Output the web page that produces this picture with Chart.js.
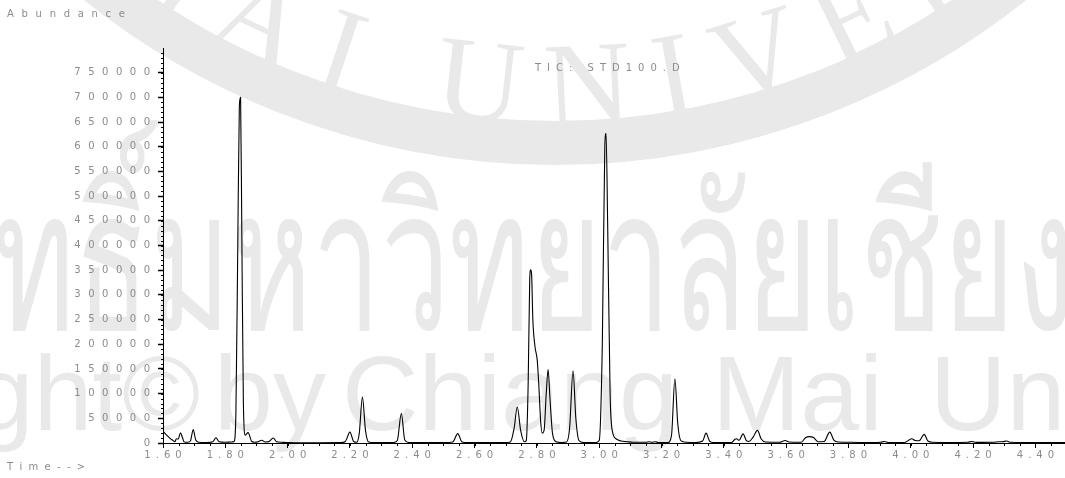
<!DOCTYPE html>
<html>
<head>
<meta charset="utf-8">
<script src="https://cdn.jsdelivr.net/npm/chart.js@4.4.1/dist/chart.umd.min.js"></script>
<style>
  html, body { margin: 0; padding: 0; background: #fff; }
  canvas { display: block; }
</style>
</head>
<body>
<canvas id="tic" width="1065" height="478"></canvas>
<script>
// Total ion chromatogram: retention time (min) vs. abundance
const retentionTimes = [
  1.600, 1.610, 1.620, 1.630, 1.638, 1.643, 1.649, 1.656, 1.662, 1.668,
  1.680, 1.688, 1.697, 1.705, 1.715, 1.740, 1.760, 1.770, 1.780, 1.800,
  1.820, 1.828, 1.834, 1.840, 1.845, 1.849, 1.853, 1.858, 1.864, 1.873,
  1.885, 1.895, 1.905, 1.917, 1.928, 1.940, 1.954, 1.965, 1.980, 2.000,
  2.050, 2.100, 2.170, 2.185, 2.200, 2.212, 2.222, 2.230, 2.240, 2.250,
  2.260, 2.280, 2.340, 2.352, 2.365, 2.376, 2.390, 2.500, 2.530, 2.546,
  2.560, 2.580, 2.700, 2.715, 2.727, 2.737, 2.748, 2.760, 2.766, 2.772,
  2.777, 2.780, 2.783, 2.787, 2.794, 2.801, 2.806, 2.812, 2.817, 2.823,
  2.830, 2.836, 2.842, 2.850, 2.862, 2.880, 2.895, 2.905, 2.916, 2.925,
  2.935, 2.950, 2.990, 3.000, 3.010, 3.018, 3.022, 3.027, 3.035, 3.042,
  3.055, 3.070, 3.090, 3.110, 3.150, 3.160, 3.170, 3.180, 3.190, 3.220,
  3.232, 3.243, 3.252, 3.262, 3.280, 3.310, 3.332, 3.343, 3.354, 3.366,
  3.425, 3.435, 3.441, 3.449, 3.462, 3.472, 3.481, 3.494, 3.508, 3.520,
  3.534, 3.578, 3.597, 3.609, 3.648, 3.663, 3.675, 3.688, 3.703, 3.722,
  3.740, 3.753, 3.768, 3.810, 3.870, 3.903, 3.915, 3.928, 3.980, 4.003,
  4.015, 4.027, 4.043, 4.055, 4.070, 4.120, 4.183, 4.196, 4.210, 4.268,
  4.281, 4.293, 4.308, 4.320, 4.370, 4.420, 4.495
];
const abundance = [
  24000, 17000, 11000, 6000, 2500, 8500, 8000, 20500, 12000, 2000,
  1500, 4000, 27000, 6000, 1500, 1000, 2500, 10500, 2500, 1500,
  2000, 3000, 60000, 400000, 682000, 700000, 420000, 80000, 16000, 21000,
  3000, 1500, 2500, 5500, 2000, 3000, 10000, 2500, 1500, 1000,
  500, 500, 800, 3000, 22000, 3000, 1500, 20000, 93000, 25000,
  2000, 800, 1000, 5000, 60000, 6000, 1000, 800, 2000, 19000,
  2000, 800, 800, 2000, 30000, 73000, 25000, 2500, 5000, 120000,
  330000, 351000, 342000, 250000, 195000, 168000, 120000, 45000, 20000, 25000,
  100000, 149000, 90000, 20000, 2500, 1000, 2000, 30000, 146000, 50000,
  5000, 1000, 1000, 5000, 200000, 600000, 627000, 450000, 100000, 25000,
  8000, 4000, 2500, 1500, 1500, 2500, 1500, 2500, 1000, 1000,
  15000, 130000, 40000, 5000, 1500, 1000, 4000, 20000, 4000, 1000,
  1000, 7000, 8500, 5500, 18500, 5000, 3000, 12000, 25500, 8000,
  2000, 1500, 5000, 2000, 1500, 11000, 13000, 11000, 2500, 3000,
  22000, 6000, 2000, 1500, 800, 1500, 3000, 1000, 1000, 8500,
  5000, 4500, 17500, 4000, 1500, 1000, 1500, 3000, 1200, 1500,
  2500, 2500, 4000, 1500, 1000, 1000, 1000
];

const xTickValues = [1.6, 1.8, 2.0, 2.2, 2.4, 2.6, 2.8, 3.0, 3.2, 3.4, 3.6, 3.8, 4.0, 4.2, 4.4];
const yTickValues = [0, 50000, 100000, 150000, 200000, 250000, 300000, 350000,
                     400000, 450000, 500000, 550000, 600000, 650000, 700000, 750000];
const xMinorStep = 0.05;
const yMinorStep = 10000;

const yLabelText = 'Abundance';
const xLabelText = 'Time-->';
const traceTitle = 'TIC: STD100.D';
const watermarkSeal = 'CHIANG MAI UNIVERSITY';
const watermarkThai = 'ลิขสิทธิ์มหาวิทยาลัยเชียงใหม่';
const watermarkCopyright = ['Copyright©', 'by', 'Chiang', 'Mai', 'University'];

const points = retentionTimes.map((t, i) => ({ x: t, y: abundance[i] }));

const LABEL_GREY = '#8c8c8c';
const MARK_GREY = '#e9e9e9';
const spaced = (s, gap) => String(s).split('').join(gap);

function drawSpaced(ctx, text, x, y, spacing) {
  let cx = x;
  for (const ch of text) {
    ctx.fillText(ch, cx, y);
    cx += ctx.measureText(ch).width + spacing;
  }
}

// faint university seal and copyright text behind the plot
const watermark = {
  id: 'watermark',
  beforeDraw(chart) {
    const ctx = chart.ctx;
    ctx.save();
    ctx.fillStyle = '#fff';
    ctx.fillRect(0, 0, chart.width, chart.height);

    const cx = 555, cy = -590;
    ctx.strokeStyle = MARK_GREY;
    ctx.lineWidth = 44;
    ctx.beginPath();
    ctx.arc(cx, cy, 733, 0, Math.PI);
    ctx.stroke();

    // seal lettering along the inside of the ring
    ctx.fillStyle = MARK_GREY;
    ctx.font = '120px "Liberation Serif", serif';
    ctx.textBaseline = 'alphabetic';
    ctx.textAlign = 'left';
    const r = 715, extra = 28;
    const chars = [...watermarkSeal];
    const widths = chars.map(ch => ctx.measureText(ch).width);
    const anchor = watermarkSeal.indexOf('MAI') + 1;
    let offset = 0;
    for (let i = 0; i < anchor; i++) offset += widths[i] + extra;
    offset += widths[anchor] / 2;
    let theta = Math.acos((245 - cx) / r) + offset / r;
    chars.forEach((ch, i) => {
      const w = widths[i];
      const mid = theta - (w / 2) / r;
      ctx.save();
      ctx.translate(cx + r * Math.cos(mid), cy + r * Math.sin(mid));
      ctx.rotate(mid - Math.PI / 2);
      ctx.fillText(ch, -w / 2, 0);
      ctx.restore();
      theta -= (w + extra) / r;
    });

    ctx.font = '132px "Noto Sans", "DejaVu Sans", sans-serif';
    const thaiLead = ctx.measureText('ลิขสิทธิ์').width;
    ctx.save();
    ctx.translate(150, 330);
    ctx.scale(0.93, 1.5);
    ctx.fillText(watermarkThai, -thaiLead, 0);
    ctx.restore();

    // copyright line, word by word
    ctx.font = '106px "Liberation Sans", Arial, sans-serif';
    const wordLeft = [200 - ctx.measureText(watermarkCopyright[0]).width, 214, 342, 712, 930];
    watermarkCopyright.forEach((w, i) => ctx.fillText(w, wordLeft[i], 430));
    ctx.restore();
  },
  afterDraw(chart) {
    const ctx = chart.ctx;
    const xs = chart.scales.x, ys = chart.scales.y;
    ctx.save();
    // minor tick marks along both axes
    ctx.strokeStyle = '#000';
    ctx.lineWidth = 1;
    ctx.beginPath();
    for (let v = xs.min + xMinorStep; v < xs.max; v += xMinorStep) {
      const px = Math.round(xs.getPixelForValue(v)) + 0.5;
      ctx.moveTo(px, ys.bottom);
      ctx.lineTo(px, ys.bottom + 3);
    }
    for (let v = yMinorStep; v < ys.max; v += yMinorStep) {
      const py = Math.round(ys.getPixelForValue(v)) + 0.5;
      ctx.moveTo(xs.left - 2, py);
      ctx.lineTo(xs.left, py);
    }
    ctx.stroke();

    ctx.fillStyle = LABEL_GREY;
    ctx.font = '10px "DejaVu Sans", sans-serif';
    ctx.textBaseline = 'middle';
    ctx.textAlign = 'left';
    drawSpaced(ctx, yLabelText, 7, 14, 7.7);
    drawSpaced(ctx, xLabelText, 7, 467, 6.3);
    drawSpaced(ctx, traceTitle, 535, 68, 6);
    ctx.restore();
  }
};

new Chart(document.getElementById('tic'), {
  type: 'line',
  data: {
    datasets: [{
      data: points,
      borderColor: '#000',
      borderWidth: 1.1,
      pointRadius: 0,
      fill: false,
      cubicInterpolationMode: 'monotone'
    }]
  },
  options: {
    responsive: false,
    animation: false,
    devicePixelRatio: 1,
    layout: { padding: { top: 48, right: 0, left: 0, bottom: 0 } },
    plugins: { legend: { display: false }, tooltip: { enabled: false } },
    scales: {
      x: {
        type: 'linear',
        min: 1.6,
        max: 4.495,
        afterFit: s => { s.height = 35; },
        afterBuildTicks: s => { s.ticks = xTickValues.map(v => ({ value: v })); },
        ticks: {
          color: LABEL_GREY,
          padding: 1,
          maxRotation: 0,
          autoSkip: false,
          font: { family: '"DejaVu Sans", sans-serif', size: 10 },
          callback: v => spaced(v.toFixed(2), '\u2002')
        },
        grid: { drawOnChartArea: false, drawTicks: true, tickLength: 5, tickColor: '#000' },
        border: { display: true, color: '#000', width: 1 }
      },
      y: {
        type: 'linear',
        min: 0,
        max: 800000,
        afterFit: s => { s.width = 163; },
        afterBuildTicks: s => { s.ticks = yTickValues.map(v => ({ value: v })); },
        ticks: {
          color: LABEL_GREY,
          padding: 8,
          autoSkip: false,
          font: { family: '"DejaVu Sans", sans-serif', size: 10 },
          callback: v => spaced(String(v), '\u2002\u2005')
        },
        grid: { drawOnChartArea: false, drawTicks: true, tickLength: 5, tickColor: '#000', tickWidth: 1.5 },
        border: { display: true, color: '#000', width: 1 }
      }
    }
  },
  plugins: [watermark]
});
</script>
</body>
</html>
